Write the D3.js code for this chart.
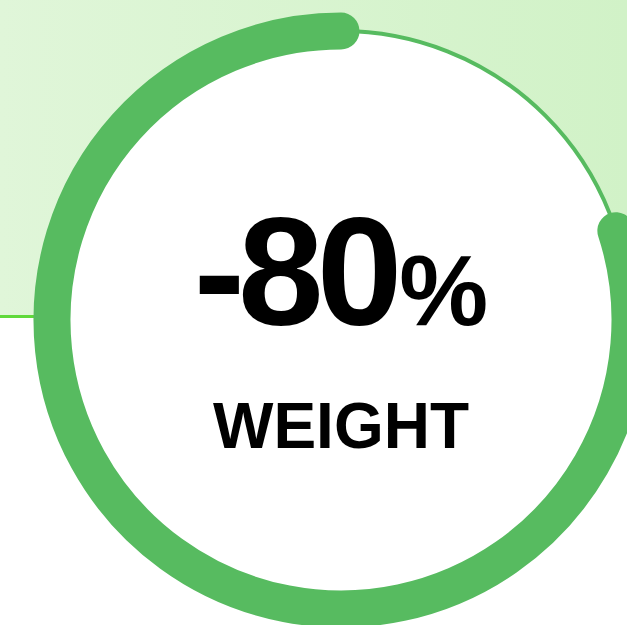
<!DOCTYPE html>
<html>
<head>
<meta charset="utf-8">
<script src="https://cdn.jsdelivr.net/npm/d3@7"></script>
<style>
  html, body { margin: 0; padding: 0; background: #fff; }
  svg { display: block; }
</style>
</head>
<body>
<div id="dis"></div>
<script>
// data
var values = [80];          // percent change (shown with a minus sign)
var signs = ["-"];
var labels = ["WEIGHT"];

var draw = function() {
    var width = 627;
    var height = 625;
    var cx = 341, cy = 320, r = 289;
    var thick = 37;

    var svg = d3.select("#dis").append("svg")
        .attr("width", width)
        .attr("height", height);

    var defs = svg.append("defs");
    var grad = defs.append("linearGradient")
        .attr("id", "bg")
        .attr("x1", "0%").attr("x2", "100%")
        .attr("y1", "0%").attr("y2", "0%");
    grad.append("stop").attr("offset", "0%").attr("stop-color", "#e0f6d9");
    grad.append("stop").attr("offset", "100%").attr("stop-color", "#d1f2c7");

    // top band
    svg.append("rect")
        .attr("x", 0).attr("y", 0)
        .attr("width", width).attr("height", 317)
        .attr("fill", "url(#bg)");
    svg.append("rect")
        .attr("x", 0).attr("y", 315)
        .attr("width", 60).attr("height", 3)
        .attr("fill", "#5fd93a");

    var g = svg.append("g")
        .attr("transform", "translate(" + cx + "," + cy + ")");

    // white disc
    g.append("circle")
        .attr("r", r)
        .attr("fill", "#fff");

    // clockwise angle from 12 o'clock
    var angle = d3.scaleLinear().domain([0, 100]).range([0, 2 * Math.PI]);

    // thin track
    g.append("circle")
        .attr("r", r)
        .attr("fill", "none")
        .attr("stroke", "#57bb60")
        .attr("stroke-width", 4);

    // value arc, ends at the top, round caps
    var arcPath = function(d) {
        var p = d3.path();
        var a0 = angle(100 - d) - Math.PI / 2;
        var a1 = angle(100) - Math.PI / 2;
        p.arc(0, 0, r, a0, a1, false);
        return p.toString();
    };

    g.selectAll("path.val")
        .data(values)
        .join("path")
        .attr("class", "val")
        .attr("fill", "none")
        .attr("stroke", "#57bb60")
        .attr("stroke-width", thick)
        .attr("stroke-linecap", "round")
        .attr("d", arcPath);

    // big number
    var num = g.append("text")
        .attr("x", 0)
        .attr("y", 5)
        .attr("text-anchor", "middle")
        .attr("font-family", "'Liberation Sans', Arial, sans-serif")
        .attr("font-weight", "bold")
        .attr("fill", "#000");
    num.append("tspan")
        .attr("font-size", 154)
        .attr("letter-spacing", -7)
        .text(signs[0] + values[0]);
    num.append("tspan")
        .attr("font-size", 100)
        .attr("dx", 4)
        .text("%");

    g.append("text")
        .attr("x", 0)
        .attr("y", 128)
        .attr("text-anchor", "middle")
        .attr("font-family", "'Liberation Sans', Arial, sans-serif")
        .attr("font-weight", "bold")
        .attr("font-size", 64)
        .attr("fill", "#000")
        .text(labels[0]);
};

window.onload = function() {
    draw();
};
</script>
</body>
</html>
